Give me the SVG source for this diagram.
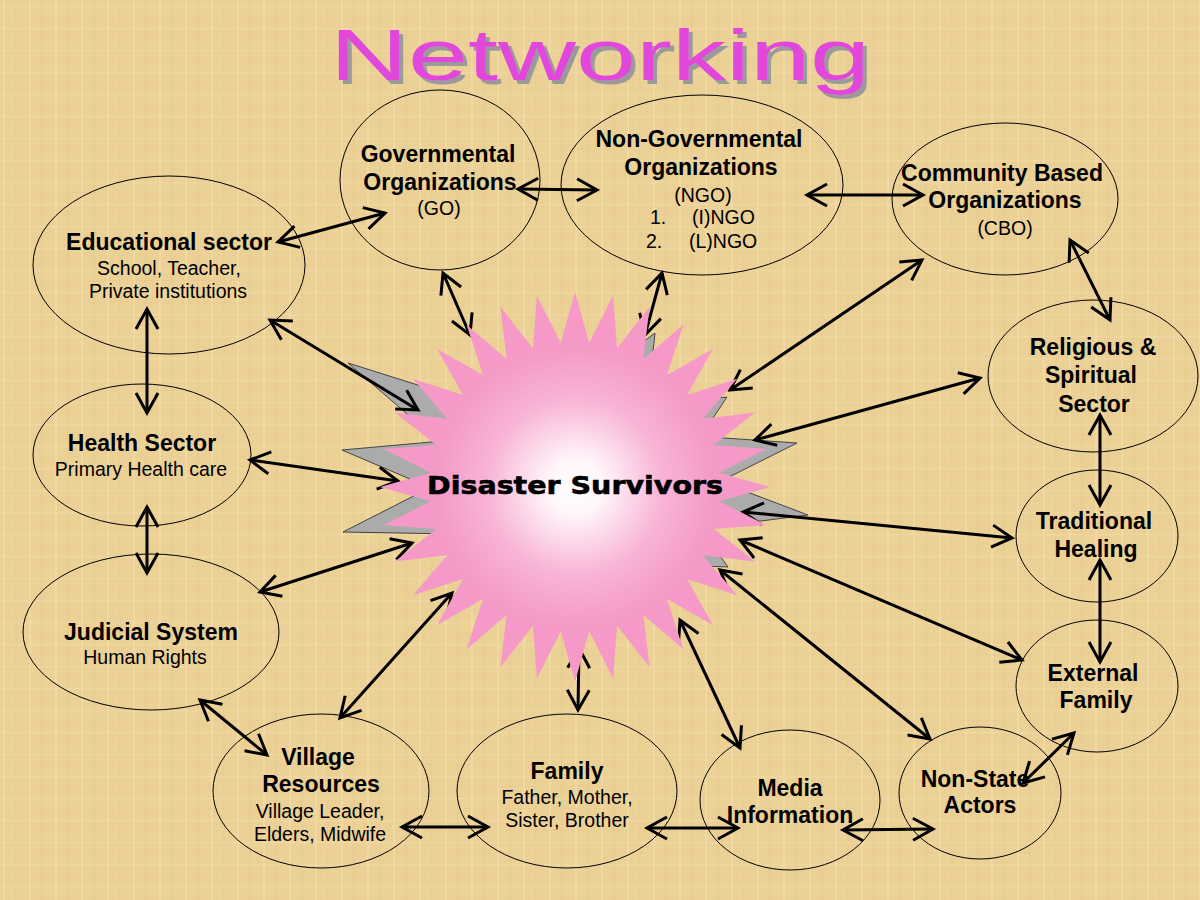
<svg xmlns="http://www.w3.org/2000/svg" width="1200" height="900" viewBox="0 0 1200 900">
<defs>
<pattern id="bg" width="26" height="22" patternUnits="userSpaceOnUse">
<rect width="26" height="22" fill="#ECD196"/>
<rect x="3" y="0" width="2" height="22" fill="#F4E2B2" opacity="0.45"/>
<rect x="15" y="0" width="1.5" height="22" fill="#E0C388" opacity="0.35"/>
<rect x="0" y="6" width="26" height="1.5" fill="#F3DFAC" opacity="0.45"/>
<rect x="0" y="16" width="26" height="1" fill="#E2C58A" opacity="0.35"/>
</pattern>
<radialGradient id="burst" cx="0" cy="0" r="195" gradientUnits="userSpaceOnUse">
<stop offset="0" stop-color="#FFFFFF"/>
<stop offset="0.14" stop-color="#FFF6FA"/>
<stop offset="0.45" stop-color="#F8B4D6"/>
<stop offset="0.7" stop-color="#F59BC8"/>
<stop offset="1" stop-color="#F598C7"/>
</radialGradient>
<filter id="shadow" x="-5%" y="-20%" width="110%" height="150%">
<feFlood flood-color="#9A9A9A"/>
<feComposite in2="SourceAlpha" operator="in"/>
<feOffset dx="4" dy="4" result="s"/>
<feMerge><feMergeNode in="s"/><feMergeNode in="SourceGraphic"/></feMerge>
</filter>
<marker id="ah" viewBox="-24 -14 28 28" refX="0" refY="0" markerWidth="28" markerHeight="28" markerUnits="userSpaceOnUse" orient="auto-start-reverse">
<path d="M-20,-11 L0,0 L-20,11" fill="none" stroke="#000" stroke-width="3"/>
</marker>
<style>
.node{fill:none;stroke:#000;stroke-width:1}
.b{font-family:"Liberation Sans",Arial,sans-serif;font-weight:bold;font-size:23px;fill:#000;text-anchor:middle}
.r{font-family:"Liberation Sans",Arial,sans-serif;font-size:19.5px;fill:#000;text-anchor:middle}
.rl{font-family:"Liberation Sans",Arial,sans-serif;font-size:19.5px;fill:#000}
.conn line{stroke:#000;stroke-width:3;marker-start:url(#ah);marker-end:url(#ah)}
</style>
</defs>
<rect width="1200" height="900" fill="url(#bg)"/>

<g id="title">
<text x="330" y="80" font-family="Liberation Sans,Arial,sans-serif" font-size="72" fill="#E246DC" textLength="540" lengthAdjust="spacingAndGlyphs" filter="url(#shadow)">Networking</text>
</g>

<g id="go"><ellipse class="node" cx="440" cy="180" rx="100" ry="90"/>
<text class="b" x="438" y="162">Governmental</text>
<text class="b" x="440" y="190">Organizations</text>
<text class="r" x="439" y="215">(GO)</text></g>

<g id="ngo"><ellipse class="node" cx="702" cy="185" rx="141" ry="90"/>
<text class="b" x="699" y="147">Non-Governmental</text>
<text class="b" x="701" y="175">Organizations</text>
<text class="r" x="703" y="202">(NGO)</text>
<text class="rl" x="650" y="224">1.</text><text class="rl" x="692" y="224">(I)NGO</text>
<text class="rl" x="646" y="248">2.</text><text class="rl" x="689" y="248">(L)NGO</text></g>

<g id="cbo"><ellipse class="node" cx="1005" cy="199" rx="113" ry="76"/>
<text class="b" x="1002" y="181">Community Based</text>
<text class="b" x="1005" y="208">Organizations</text>
<text class="r" x="1005" y="235">(CBO)</text></g>

<g id="edu"><ellipse class="node" cx="169" cy="265" rx="136" ry="89"/>
<text class="b" x="169" y="250">Educational sector</text>
<text class="r" x="169" y="275">School, Teacher,</text>
<text class="r" x="168" y="298">Private institutions</text></g>

<g id="rel"><ellipse class="node" cx="1093" cy="376" rx="105" ry="76"/>
<text class="b" x="1093" y="355">Religious &amp;</text>
<text class="b" x="1091" y="383">Spiritual</text>
<text class="b" x="1094" y="412">Sector</text></g>

<g id="trad"><ellipse class="node" cx="1097" cy="536" rx="81" ry="66"/>
<text class="b" x="1094" y="529">Traditional</text>
<text class="b" x="1096" y="557">Healing</text></g>

<g id="health"><ellipse class="node" cx="142" cy="455" rx="109" ry="71"/>
<text class="b" x="142" y="451">Health Sector</text>
<text class="r" x="141" y="476">Primary Health care</text></g>

<g id="judicial"><ellipse class="node" cx="151" cy="632" rx="128" ry="78"/>
<text class="b" x="151" y="640">Judicial System</text>
<text class="r" x="145" y="664">Human Rights</text></g>

<g id="extfam"><ellipse class="node" cx="1097" cy="686" rx="81" ry="66"/>
<text class="b" x="1093" y="681">External</text>
<text class="b" x="1096" y="708">Family</text></g>

<g id="nonstate"><ellipse class="node" cx="980" cy="793" rx="81" ry="66"/>
<text class="b" x="975" y="787">Non-State</text>
<text class="b" x="980" y="813">Actors</text></g>

<g id="village"><ellipse class="node" cx="321" cy="791" rx="108" ry="77"/>
<text class="b" x="318" y="765">Village</text>
<text class="b" x="321" y="792">Resources</text>
<text class="r" x="320" y="818">Village Leader,</text>
<text class="r" x="320" y="841">Elders, Midwife</text></g>

<g id="family"><ellipse class="node" cx="567" cy="791" rx="110" ry="77"/>
<text class="b" x="567" y="779">Family</text>
<text class="r" x="567" y="804">Father, Mother,</text>
<text class="r" x="567" y="827">Sister, Brother</text></g>

<g id="media"><ellipse class="node" cx="790" cy="800" rx="90" ry="70"/>
<text class="b" x="790" y="796">Media</text>
<text class="b" x="790" y="823">Information</text></g>

<g id="shadow-star" transform="translate(575,487)" fill="#ABABAB" stroke="#444" stroke-width="1">
<polygon points="-227,-124 -125,-36 -100,-84"/>
<polygon points="-233,-37 -130,7 -121,-47"/>
<polygon points="-232,45 -121,47 -130,-7"/>
<polygon points="222,-44 120,-51 130,2"/>
<polygon points="233,28 130,-11 123,42"/>
<polygon points="152,-90 100,-84 122,-45"/>
<polygon points="80,-154 40,-124 75,-107"/>
<polygon points="153,80 124,40 104,78"/>
</g>

<g id="connectors" class="conn">
<line x1="278" y1="242" x2="385" y2="213"/>
<line x1="518" y1="189" x2="597" y2="190"/>
<line x1="807" y1="195" x2="923" y2="195"/>
<line x1="1070" y1="240" x2="1110" y2="320"/>
<line x1="1100" y1="415" x2="1100" y2="505"/>
<line x1="1100" y1="560" x2="1100" y2="662"/>
<line x1="1074" y1="733" x2="1023" y2="783"/>
<line x1="843" y1="830" x2="933" y2="829"/>
<line x1="647" y1="828" x2="738" y2="828"/>
<line x1="402" y1="827" x2="488" y2="827"/>
<line x1="200" y1="700" x2="267" y2="755"/>
<line x1="147" y1="309" x2="147" y2="413"/>
<line x1="147" y1="507" x2="147" y2="573"/>
<line x1="270" y1="320" x2="418" y2="410"/>
<line x1="250" y1="460" x2="398" y2="481"/>
<line x1="260" y1="592" x2="412" y2="543"/>
<line x1="340" y1="718" x2="452" y2="593"/>
<line x1="579" y1="648" x2="578" y2="710"/>
<line x1="680" y1="620" x2="740" y2="748"/>
<line x1="720" y1="570" x2="930" y2="739"/>
<line x1="740" y1="540" x2="1022" y2="660"/>
<line x1="743" y1="512" x2="1012" y2="538"/>
<line x1="755" y1="440" x2="980" y2="378"/>
<line x1="730" y1="390" x2="922" y2="260"/>
<line x1="645" y1="335" x2="662" y2="273"/>
<line x1="443" y1="273" x2="470" y2="335"/>
</g>

<g id="survivors">
<polygon transform="translate(575,487)" fill="url(#burst)" points="195,0 144.3,14.21 191.25,38.04 138.76,42.09 180.16,74.62 127.88,68.35 162.14,108.34 112.09,91.99 137.89,137.89 91.99,112.09 108.34,162.14 68.35,127.88 74.62,180.16 42.09,138.76 38.04,191.25 14.21,144.3 0,195 -14.21,144.3 -38.04,191.25 -42.09,138.76 -74.62,180.16 -68.35,127.88 -108.34,162.14 -91.99,112.09 -137.89,137.89 -112.09,91.99 -162.14,108.34 -127.88,68.35 -180.16,74.62 -138.76,42.09 -191.25,38.04 -144.3,14.21 -195,0 -144.3,-14.21 -191.25,-38.04 -138.76,-42.09 -180.16,-74.62 -127.88,-68.35 -162.14,-108.34 -112.09,-91.99 -137.89,-137.89 -91.99,-112.09 -108.34,-162.14 -68.35,-127.88 -74.62,-180.16 -42.09,-138.76 -38.04,-191.25 -14.21,-144.3 0,-195 14.21,-144.3 38.04,-191.25 42.09,-138.76 74.62,-180.16 68.35,-127.88 108.34,-162.14 91.99,-112.09 137.89,-137.89 112.09,-91.99 162.14,-108.34 127.88,-68.35 180.16,-74.62 138.76,-42.09 191.25,-38.04 144.3,-14.21"/>
<text x="427" y="494" font-family="DejaVu Sans,Liberation Sans,sans-serif" font-weight="bold" font-size="25" fill="#000" stroke="#000" stroke-width="0.6" textLength="296" lengthAdjust="spacingAndGlyphs">Disaster Survivors</text>
</g>
</svg>
